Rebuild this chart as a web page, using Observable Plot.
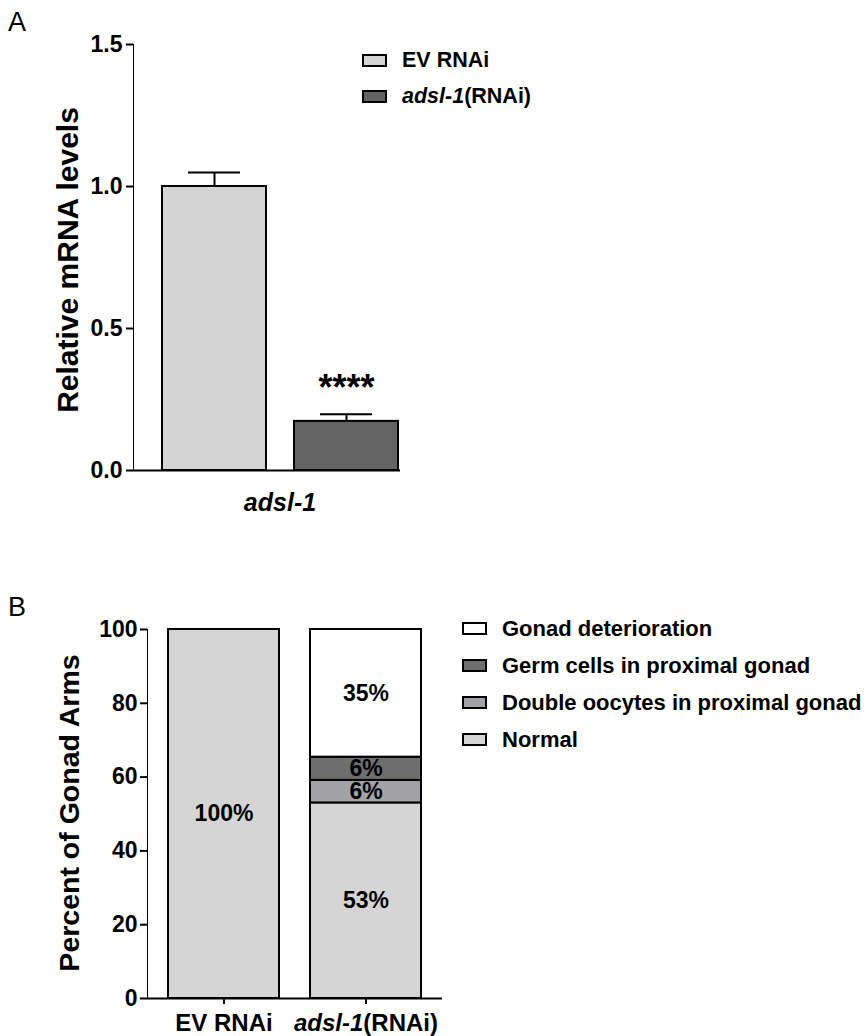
<!DOCTYPE html>
<html><head><meta charset="utf-8">
<script src="https://cdn.jsdelivr.net/npm/d3@7"></script>
<script src="https://cdn.jsdelivr.net/npm/@observablehq/plot@0.6"></script>
<style>
body{margin:0;background:#fff;font-family:"Liberation Sans",Arial,sans-serif;color:#000;}
#root{position:relative;width:868px;height:1036px;overflow:hidden;background:#fff;}
.abs{position:absolute;white-space:nowrap;line-height:1;}
.plot{position:absolute;}
.plot svg{font-family:"Liberation Sans",Arial,sans-serif;overflow:visible;}
.plot [aria-label="y-axis tick"], .plot [aria-label="x-axis tick"]{stroke-width:2px;}
.plot [aria-label="y-axis tick label"]{font-size:23px;font-weight:bold;}
.plot [aria-label="x-axis tick label"]{font-size:24px;font-weight:bold;}
.panel{font-size:27px;}
.leg{font-size:21.5px;font-weight:bold;}
.legB{font-size:22px;}
.ylab{font-weight:bold;transform:translate(-50%,-50%) rotate(-90deg);}
.sw{position:absolute;width:21px;height:9px;border:2px solid #000;}
</style></head>
<body><div id="root"></div>
<script>
// ---------- Panel A data ----------
const conditionsA = ["EV RNAi", "adsl-1(RNAi)"];
const meanA = [1.0, 0.173];
const semA = [0.049, 0.025];
const sigA = ["", "****"];
const yTicksA = [0, 0.5, 1.0, 1.5];
const geneA = "adsl-1";
const yLabelA = "Relative mRNA levels";
const colorsA = ["#d4d4d4", "#636363"];

// ---------- Panel B data ----------
const conditionsB = ["EV RNAi", "adsl-1(RNAi)"];
const phenotypes = ["Normal", "Double oocytes in proximal gonad", "Germ cells in proximal gonad", "Gonad deterioration"];
const evPercent = [100, 0, 0, 0];
const adslPercent = [53, 6.1, 6.3, 34.6];
const yTicksB = [0, 20, 40, 60, 80, 100];
const yLabelB = "Percent of Gonad Arms";
const colorsB = ["#d5d5d5", "#a3a3a7", "#6e6e6e", "#ffffff"];
const legendOrderB = ["Gonad deterioration", "Germ cells in proximal gonad", "Double oocytes in proximal gonad", "Normal"];

const root = document.getElementById("root");

function addDiv(cls, html, style) {
  const d = document.createElement("div");
  d.className = cls;
  d.innerHTML = html;
  Object.assign(d.style, style);
  root.appendChild(d);
  return d;
}
function italicize(label) {
  const m = label.match(/^(adsl-1)(.*)$/);
  return m ? `<i>${m[1]}</i>${m[2]}` : label;
}

// ---------- Panel A ----------
const dataA = conditionsA.map((c, i) => ({condition: c, mean: meanA[i], top: meanA[i] + semA[i], sig: sigA[i]}));
const plotA = Plot.plot({
  width: 440, height: 530,
  marginLeft: 133, marginRight: 40, marginTop: 44, marginBottom: 60,
  x: {domain: conditionsA, paddingInner: 0.211, paddingOuter: 0.113, align: 0.933, axis: null},
  y: {domain: [0, 1.5], ticks: yTicksA, tickFormat: d3.format(".1f"), line: true, tickSize: 7, tickPadding: 4, label: null},
  color: {domain: conditionsA, range: colorsA},
  marks: [
    Plot.ruleX(dataA, {x: "condition", y1: "mean", y2: "top", strokeWidth: 2}),
    Plot.tickY(dataA, {x: "condition", y: "top", strokeWidth: 2, insetLeft: 26, insetRight: 26}),
    Plot.barY(dataA, {x: "condition", y: "mean", fill: "condition", stroke: "#000", strokeWidth: 2}),
    Plot.text(dataA, {x: "condition", y: "top", text: "sig", dy: -14, lineAnchor: "bottom", fontSize: 36, fontWeight: "bold"}),
    Plot.ruleY([0], {strokeWidth: 2})
  ]
});
const wrapA = addDiv("plot", "", {left: "0px", top: "0px"});
wrapA.appendChild(plotA);

addDiv("abs panel", "A", {left: "8px", top: "9px"});
addDiv("abs ylab", yLabelA, {left: "68px", top: "260px", fontSize: "30px"});
addDiv("abs", `<i>${geneA}</i>`, {left: "280px", top: "490px", transform: "translateX(-50%)", fontSize: "25px", fontWeight: "bold"});

conditionsA.forEach((c, i) => {
  const y = 54 + i * 36;
  addDiv("sw", "", {left: "362px", top: y + "px", background: colorsA[i]});
  addDiv("abs leg", italicize(c), {left: "402px", top: (y - 4) + "px"});
});

// ---------- Panel B ----------
const dataB = [];
conditionsB.forEach((c, ci) => {
  const vals = ci === 0 ? evPercent : adslPercent;
  phenotypes.forEach((p, pi) => {
    if (vals[pi] > 0) dataB.push({condition: c, phenotype: p, value: vals[pi], label: Math.round(vals[pi]) + "%"});
  });
});
const plotB = Plot.plot({
  width: 460, height: 446,
  marginLeft: 147, marginRight: 18, marginTop: 39, marginBottom: 38,
  x: {domain: conditionsB, paddingInner: 0.2175, paddingOuter: 0.144, tickSize: 6, tickPadding: 9, label: null},
  y: {domain: [0, 100], ticks: yTicksB, line: true, tickSize: 7, tickPadding: 3, label: null},
  color: {domain: phenotypes, range: colorsB},
  marks: [
    Plot.barY(dataB, {x: "condition", y: "value", fill: "phenotype", stroke: "#000", strokeWidth: 2}),
    Plot.text(dataB, Plot.stackY({x: "condition", y: "value", text: "label", fontSize: 23, fontWeight: "bold"})),
    Plot.ruleY([0], {strokeWidth: 2})
  ]
});
const wrapB = addDiv("plot", "", {left: "0px", top: "590px"});
wrapB.appendChild(plotB);
// italic gene name in tick label
plotB.querySelectorAll("text").forEach(t => {
  if (t.textContent === "adsl-1(RNAi)") {
    t.textContent = "";
    const a = document.createElementNS("http://www.w3.org/2000/svg", "tspan");
    a.setAttribute("font-style", "italic"); a.textContent = "adsl-1";
    const b = document.createElementNS("http://www.w3.org/2000/svg", "tspan");
    b.textContent = "(RNAi)";
    t.appendChild(a); t.appendChild(b);
  }
});

addDiv("abs panel", "B", {left: "8px", top: "594px"});
addDiv("abs ylab", yLabelB, {left: "69px", top: "813px", fontSize: "28.5px"});
legendOrderB.forEach((p, i) => {
  const y = 622 + i * 37;
  addDiv("sw", "", {left: "462px", top: y + "px", background: colorsB[phenotypes.indexOf(p)]});
  addDiv("abs leg legB", p, {left: "502px", top: (y - 4) + "px"});
});
</script></body></html>
